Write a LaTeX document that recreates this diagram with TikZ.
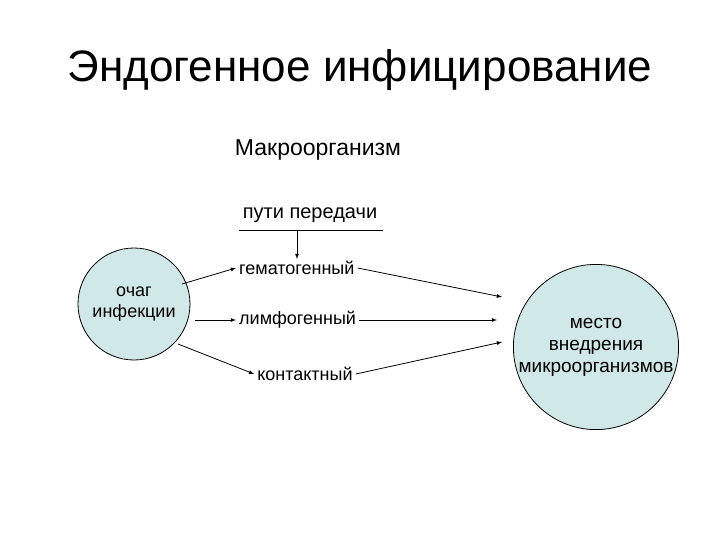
\documentclass[tikz,border=0pt]{standalone}
\usepackage{fontspec}
\setmainfont{Liberation Sans}
\begin{document}
\begin{tikzpicture}[x=1pt,y=-1pt,
  circ/.style={circle,draw=black,line width=0.8pt,align=center,inner sep=0pt,fill={rgb,255:red,208;green,232;blue,232}},
  lbl/.style={font=\fontsize{18}{20}\selectfont,inner sep=3pt},
  arr/.style={->,>=latex,line width=0.8pt}]
\useasboundingbox (0,0) rectangle (720,540);
\node[font=\fontsize{44}{50}\selectfont] (title) at (360,70) {Эндогенное инфицирование};
\node[font=\fontsize{23}{26}\selectfont] (makro) at (318,150) {Макроорганизм};
\node[font=\fontsize{20}{22}\selectfont] (puti) at (310,215) {пути передачи};
\coordinate (ul) at (239,230); \coordinate (ur) at (383,230);
\draw[line width=0.6pt] (ul) -- (ur);
\coordinate (pd) at (297,230);
\node[circ,minimum size=112pt,font=\fontsize{18}{21}\selectfont] (src) at (134,304) {очаг\\инфекции};
\node[circ,minimum size=164pt,font=\fontsize{19}{22}\selectfont] (dst) at (596,347) {место\\внедрения\\микроорганизмов};
\node[lbl,anchor=west] (gem) at (236,268) {гематогенный};
\node[lbl,anchor=west] (lim) at (236,320) {лимфогенный};
\node[lbl] (kon) at (305,374) {контактный};
\draw[arr] (pd) -- (297,259);
\coordinate (s1) at (182,284); \coordinate (s2) at (195,320); \coordinate (s3) at (178,344);
\coordinate (d1) at (502,297); \coordinate (d2) at (497,320); \coordinate (d3) at (502,342);
\draw[arr] (s1) -- (gem.west);
\draw[arr] (s2) -- (lim.west);
\draw[arr] (s3) -- (kon.west);
\draw[arr] (gem.east) -- (d1);
\draw[arr] (lim.east) -- (d2);
\draw[arr] (kon.east) -- (d3);
\end{tikzpicture}
\end{document}
